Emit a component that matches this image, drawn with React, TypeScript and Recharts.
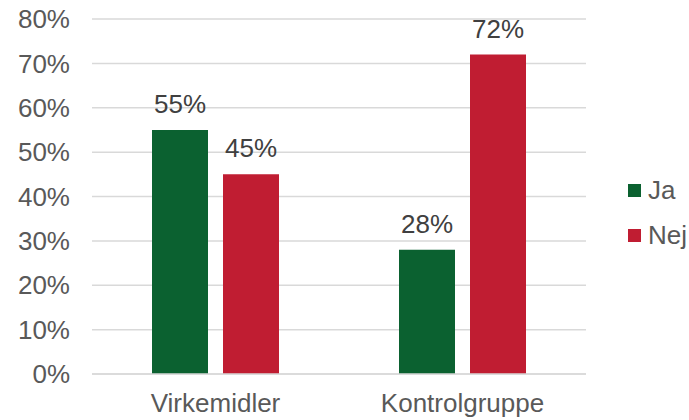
import React from "react";
import { BarChart, Bar, XAxis, YAxis, CartesianGrid, LabelList } from "recharts";

const categories = ["Virkemidler", "Kontrolgruppe"];
const jaValues = [55, 28];
const nejValues = [45, 72];
const yTicks = [0, 10, 20, 30, 40, 50, 60, 70, 80];
const seriesNames = ["Ja", "Nej"];
const colors = ["#0B6130", "#C01D32"];

const data = categories.map((c, i) => ({ name: c, Ja: jaValues[i], Nej: nejValues[i] }));

const FONT = "'Liberation Sans', Arial, sans-serif";
const FS = 26;

export default function App() {
  return (
    <div style={{ position: "absolute", left: 0, top: 0, width: 689, height: 420, background: "#fff", fontFamily: FONT }}>
      <BarChart
        width={689}
        height={420}
        data={data}
        margin={{ top: 19, right: 103, bottom: 0, left: 0 }}
        barGap={15}
        barSize={56}
        barCategoryGap={60}
      >
        <CartesianGrid vertical={false} stroke="#D9D9D9" strokeWidth={1.5} />
        <XAxis
          dataKey="name"
          height={46}
          axisLine={{ stroke: "#D9D9D9", strokeWidth: 1.5 }}
          tickLine={false}
          tickSize={0}
          tickMargin={20}
          tick={{ fill: "#595959", fontSize: FS, fontFamily: FONT }}
        />
        <YAxis
          width={92}
          domain={[0, 80]}
          ticks={yTicks}
          axisLine={false}
          tickLine={false}
          tickSize={0}
          tickMargin={22}
          tickFormatter={(v: number) => `${v}%`}
          tick={{ fill: "#595959", fontSize: FS, fontFamily: FONT }}
        />
        {seriesNames.map((s, i) => (
          <Bar key={s} dataKey={s} fill={colors[i]} isAnimationActive={false}>
            <LabelList
              dataKey={s}
              position="top"
              offset={17}
              formatter={(v: number) => `${v}%`}
              style={{ fill: "#404040", fontSize: FS, fontFamily: FONT }}
            />
          </Bar>
        ))}
      </BarChart>
      <div style={{ position: "absolute", left: 628, top: 174 }}>
        {seriesNames.map((s, i) => (
          <div key={s} style={{ display: "flex", alignItems: "center", height: 32, marginBottom: 13 }}>
            <div style={{ width: 13, height: 13, background: colors[i], marginRight: 7 }} />
            <span style={{ color: "#595959", fontSize: FS, fontFamily: FONT }}>{s}</span>
          </div>
        ))}
      </div>
    </div>
  );
}
